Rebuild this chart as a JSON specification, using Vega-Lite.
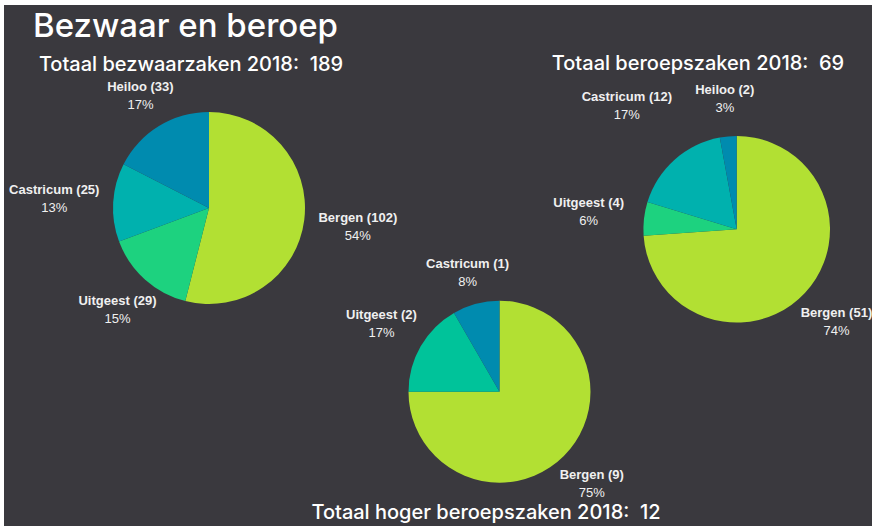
{
  "$schema": "https://vega.github.io/schema/vega-lite/v6.json",
  "width": 868,
  "height": 521,
  "autosize": {"type": "none"},
  "padding": {"left": 4, "top": 5, "right": 0, "bottom": 0},
  "background": "#ffffff",
  "config": {"view": {"fill": "#3a393e", "stroke": null}},
  "datasets": {
    "titels": [
      {"soort": "hoofd", "tekst": "Bezwaar en beroep"},
      {"soort": "bezwaar", "tekst": "Totaal bezwaarzaken 2018:\u00a0 189"},
      {"soort": "beroep", "tekst": "Totaal beroepszaken 2018:\u00a0 69"},
      {"soort": "hoger", "tekst": "Totaal hoger beroepszaken 2018:\u00a0 12"}
    ],
    "bezwaar": [
      {"grafiek": "bezwaar", "gemeente": "Bergen", "aantal": 102, "naam": "Bergen (102)", "procent": "54%", "volgorde": 1},
      {"grafiek": "bezwaar", "gemeente": "Uitgeest", "aantal": 29, "naam": "Uitgeest (29)", "procent": "15%", "volgorde": 2},
      {"grafiek": "bezwaar", "gemeente": "Castricum", "aantal": 25, "naam": "Castricum (25)", "procent": "13%", "volgorde": 3},
      {"grafiek": "bezwaar", "gemeente": "Heiloo", "aantal": 33, "naam": "Heiloo (33)", "procent": "17%", "volgorde": 4}
    ],
    "beroep": [
      {"grafiek": "beroep", "gemeente": "Bergen", "aantal": 51, "naam": "Bergen (51)", "procent": "74%", "volgorde": 1},
      {"grafiek": "beroep", "gemeente": "Uitgeest", "aantal": 4, "naam": "Uitgeest (4)", "procent": "6%", "volgorde": 2},
      {"grafiek": "beroep", "gemeente": "Castricum", "aantal": 12, "naam": "Castricum (12)", "procent": "17%", "volgorde": 3},
      {"grafiek": "beroep", "gemeente": "Heiloo", "aantal": 2, "naam": "Heiloo (2)", "procent": "3%", "volgorde": 4}
    ],
    "hoger": [
      {"grafiek": "hoger", "gemeente": "Bergen", "aantal": 9, "naam": "Bergen (9)", "procent": "75%", "volgorde": 1},
      {"grafiek": "hoger", "gemeente": "Uitgeest", "aantal": 2, "naam": "Uitgeest (2)", "procent": "17%", "volgorde": 2},
      {"grafiek": "hoger", "gemeente": "Castricum", "aantal": 1, "naam": "Castricum (1)", "procent": "8%", "volgorde": 3}
    ]
  },
  "layer": [
    {
      "data": {"name": "titels"},
      "transform": [{"filter": "datum.soort == 'hoofd'"}],
      "mark": {"type": "text", "font": "Inter", "fontSize": 33, "fontWeight": 500, "fill": "#ffffff", "align": "left", "baseline": "alphabetic"},
      "encoding": {
        "x": {"field": "soort", "type": "nominal", "scale": {"type": "point", "range": [29, 29]}, "axis": null},
        "y": {"field": "soort", "type": "nominal", "scale": {"type": "point", "range": [32, 32]}, "axis": null},
        "text": {"field": "tekst"}
      }
    },
    {
      "data": {"name": "titels"},
      "transform": [{"filter": "datum.soort == 'bezwaar'"}],
      "mark": {"type": "text", "font": "Inter", "fontSize": 20, "fontWeight": 500, "fill": "#ffffff", "align": "center", "baseline": "alphabetic"},
      "encoding": {
        "x": {"field": "soort", "type": "nominal", "scale": {"type": "point", "range": [187, 187]}, "axis": null},
        "y": {"field": "soort", "type": "nominal", "scale": {"type": "point", "range": [66, 66]}, "axis": null},
        "text": {"field": "tekst"}
      }
    },
    {
      "data": {"name": "titels"},
      "transform": [{"filter": "datum.soort == 'beroep'"}],
      "mark": {"type": "text", "font": "Inter", "fontSize": 20, "fontWeight": 500, "fill": "#ffffff", "align": "center", "baseline": "alphabetic"},
      "encoding": {
        "x": {"field": "soort", "type": "nominal", "scale": {"type": "point", "range": [694, 694]}, "axis": null},
        "y": {"field": "soort", "type": "nominal", "scale": {"type": "point", "range": [65, 65]}, "axis": null},
        "text": {"field": "tekst"}
      }
    },
    {
      "data": {"name": "titels"},
      "transform": [{"filter": "datum.soort == 'hoger'"}],
      "mark": {"type": "text", "font": "Inter", "fontSize": 20, "fontWeight": 500, "fill": "#ffffff", "align": "center", "baseline": "alphabetic"},
      "encoding": {
        "x": {"field": "soort", "type": "nominal", "scale": {"type": "point", "range": [482, 482]}, "axis": null},
        "y": {"field": "soort", "type": "nominal", "scale": {"type": "point", "range": [513.5, 513.5]}, "axis": null},
        "text": {"field": "tekst"}
      }
    },
    {
      "data": {"name": "bezwaar"},
      "encoding": {
        "x": {"field": "grafiek", "type": "nominal", "scale": {"type": "point", "range": [205, 205]}, "axis": null},
        "y": {"field": "grafiek", "type": "nominal", "scale": {"type": "point", "range": [203, 203]}, "axis": null},
        "theta": {"field": "aantal", "type": "quantitative", "stack": true},
        "order": {"field": "volgorde", "type": "quantitative"},
        "detail": {"field": "gemeente"}
      },
      "layer": [
        {
          "mark": {"type": "arc", "outerRadius": 96},
          "encoding": {
            "color": {"field": "gemeente", "type": "nominal", "legend": null,
              "scale": {"domain": ["Bergen", "Uitgeest", "Castricum", "Heiloo"], "range": ["#b2e033", "#1dd27f", "#00b1ae", "#008baf"]}}
          }
        },
        {
          "mark": {"type": "text", "font": "Liberation Sans", "fontSize": 13, "fontWeight": "bold", "fill": "#f0f0f0", "dy": -9,
            "radius": {"expr": "datum.gemeente == 'Bergen' ? 150 : datum.gemeente == 'Uitgeest' ? 137 : datum.gemeente == 'Castricum' ? 155 : 131.5"}},
          "encoding": {"text": {"field": "naam"}}
        },
        {
          "mark": {"type": "text", "font": "Liberation Sans", "fontSize": 13, "fill": "#f0f0f0", "dy": 9,
            "radius": {"expr": "datum.gemeente == 'Bergen' ? 150 : datum.gemeente == 'Uitgeest' ? 137 : datum.gemeente == 'Castricum' ? 155 : 131.5"}},
          "encoding": {"text": {"field": "procent"}}
        }
      ]
    },
    {
      "data": {"name": "beroep"},
      "encoding": {
        "x": {"field": "grafiek", "type": "nominal", "scale": {"type": "point", "range": [732.7, 732.7]}, "axis": null},
        "y": {"field": "grafiek", "type": "nominal", "scale": {"type": "point", "range": [224.3, 224.3]}, "axis": null},
        "theta": {"field": "aantal", "type": "quantitative", "stack": true},
        "order": {"field": "volgorde", "type": "quantitative"},
        "detail": {"field": "gemeente"}
      },
      "layer": [
        {
          "mark": {"type": "arc", "outerRadius": 93.3},
          "encoding": {
            "color": {"field": "gemeente", "type": "nominal", "legend": null,
              "scale": {"domain": ["Bergen", "Uitgeest", "Castricum", "Heiloo"], "range": ["#b2e033", "#1dd27f", "#00b1ae", "#008baf"]}}
          }
        },
        {
          "mark": {"type": "text", "font": "Liberation Sans", "fontSize": 13, "fontWeight": "bold", "fill": "#f0f0f0", "dy": -9,
            "radius": {"expr": "datum.gemeente == 'Bergen' ? 136.5 : datum.gemeente == 'Uitgeest' ? 149 : datum.gemeente == 'Castricum' ? 165 : 131"}},
          "encoding": {"text": {"field": "naam"}}
        },
        {
          "mark": {"type": "text", "font": "Liberation Sans", "fontSize": 13, "fill": "#f0f0f0", "dy": 9,
            "radius": {"expr": "datum.gemeente == 'Bergen' ? 136.5 : datum.gemeente == 'Uitgeest' ? 149 : datum.gemeente == 'Castricum' ? 165 : 131"}},
          "encoding": {"text": {"field": "procent"}}
        }
      ]
    },
    {
      "data": {"name": "hoger"},
      "encoding": {
        "x": {"field": "grafiek", "type": "nominal", "scale": {"type": "point", "range": [495.5, 495.5]}, "axis": null},
        "y": {"field": "grafiek", "type": "nominal", "scale": {"type": "point", "range": [386.7, 386.7]}, "axis": null},
        "theta": {"field": "aantal", "type": "quantitative", "stack": true},
        "order": {"field": "volgorde", "type": "quantitative"},
        "detail": {"field": "gemeente"}
      },
      "layer": [
        {
          "mark": {"type": "arc", "outerRadius": 91},
          "encoding": {
            "color": {"field": "gemeente", "type": "nominal", "legend": null,
              "scale": {"domain": ["Bergen", "Uitgeest", "Castricum"], "range": ["#b2e033", "#00c39a", "#008baf"]}}
          }
        },
        {
          "mark": {"type": "text", "font": "Liberation Sans", "fontSize": 13, "fontWeight": "bold", "fill": "#f0f0f0", "dy": -9,
            "radius": {"expr": "datum.gemeente == 'Bergen' ? 130.5 : datum.gemeente == 'Uitgeest' ? 136.3 : 123.4"}},
          "encoding": {"text": {"field": "naam"}}
        },
        {
          "mark": {"type": "text", "font": "Liberation Sans", "fontSize": 13, "fill": "#f0f0f0", "dy": 9,
            "radius": {"expr": "datum.gemeente == 'Bergen' ? 130.5 : datum.gemeente == 'Uitgeest' ? 136.3 : 123.4"}},
          "encoding": {"text": {"field": "procent"}}
        }
      ]
    }
  ],
  "resolve": {"scale": {"x": "independent", "y": "independent", "theta": "independent", "color": "independent"}}
}
